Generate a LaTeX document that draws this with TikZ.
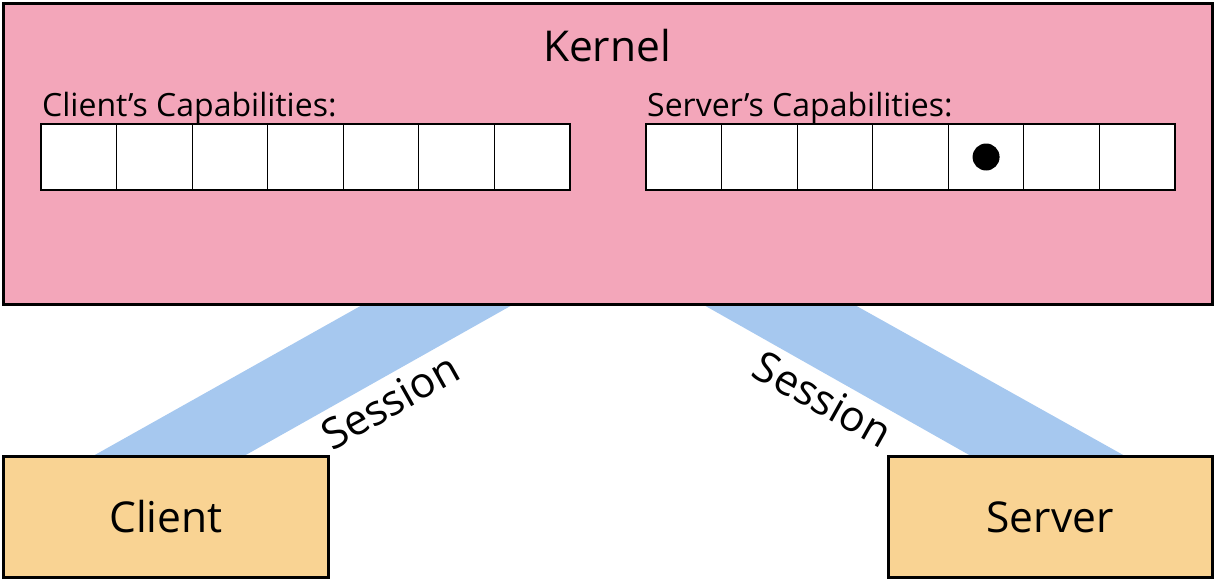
\documentclass[tikz,border=0pt]{standalone}
\usepackage{fontspec}
\setmainfont{Open Sans}
\definecolor{kernelpink}{HTML}{F3A6BA}
\definecolor{hostgold}{HTML}{F9D393}
\definecolor{sessionblue}{HTML}{A6C8EF}
\begin{document}
\begin{tikzpicture}[x=1pt,y=-1pt,
  box/.style={draw=black,line width=3pt,rectangle,anchor=north west,inner sep=0pt,outer sep=0pt},
  cell/.style={draw=black,line width=1pt,fill=white,rectangle,anchor=north west,
    minimum width=75.57pt,minimum height=66pt,inner sep=0pt,outer sep=0pt},
  bigtext/.style={font=\fontsize{42.5}{50}\selectfont},
  captext/.style={font=\fontsize{32}{38}\selectfont,anchor=base west,inner sep=0pt},
  sessiontext/.style={font=\fontsize{42.5}{50}\selectfont,inner sep=0pt}]
\useasboundingbox (0,0) rectangle (1215,579);

% session bands (drawn first, under the boxes)
\coordinate (lb1) at (93,456);  \coordinate (lb2) at (244,456);
\coordinate (lt1) at (364,304); \coordinate (lt2) at (514,304);
\coordinate (rt1) at (702,304); \coordinate (rt2) at (853,304);
\coordinate (rb1) at (971,456); \coordinate (rb2) at (1125,456);
\fill[sessionblue] (lb1) -- (lb2) -- (lt2) -- (lt1) -- cycle;
\fill[sessionblue] (rt1) -- (rt2) -- (rb2) -- (rb1) -- cycle;

% kernel
\node[box,fill=kernelpink,minimum width=1209pt,minimum height=301pt] (kernel) at (3,3) {};
\node[bigtext,anchor=base] (ktitle) at (607,61) {Kernel};

% capability tables
\node[captext] (clabel) at (42,116) {Client’s Capabilities:};
\node[captext] (slabel) at (647,116) {Server’s Capabilities:};
\foreach \i in {0,...,6} {
  \node[cell] (cc\i) at (41+\i*75.57,124) {};
  \node[cell] (sc\i) at (646+\i*75.57,124) {};
}
\draw[line width=2.5pt] (cc0.north west) rectangle (cc6.south east);
\draw[line width=2.5pt] (sc0.north west) rectangle (sc6.south east);
\fill[black] (sc4.center) circle (13.5);

% hosts
\node[box,fill=hostgold,minimum width=325pt,minimum height=121pt] (client) at (3,456) {};
\node[box,fill=hostgold,minimum width=324pt,minimum height=121pt] (server) at (888,456) {};
\node[bigtext,anchor=base] at (166,532) {Client};
\node[bigtext,anchor=base] at (1050,532) {Server};

% session labels
\node[sessiontext,rotate=29.4] (lsess) at (390,401) {Session};
\node[sessiontext,rotate=-29.3] (rsess) at (823,399) {Session};
\end{tikzpicture}
\end{document}
